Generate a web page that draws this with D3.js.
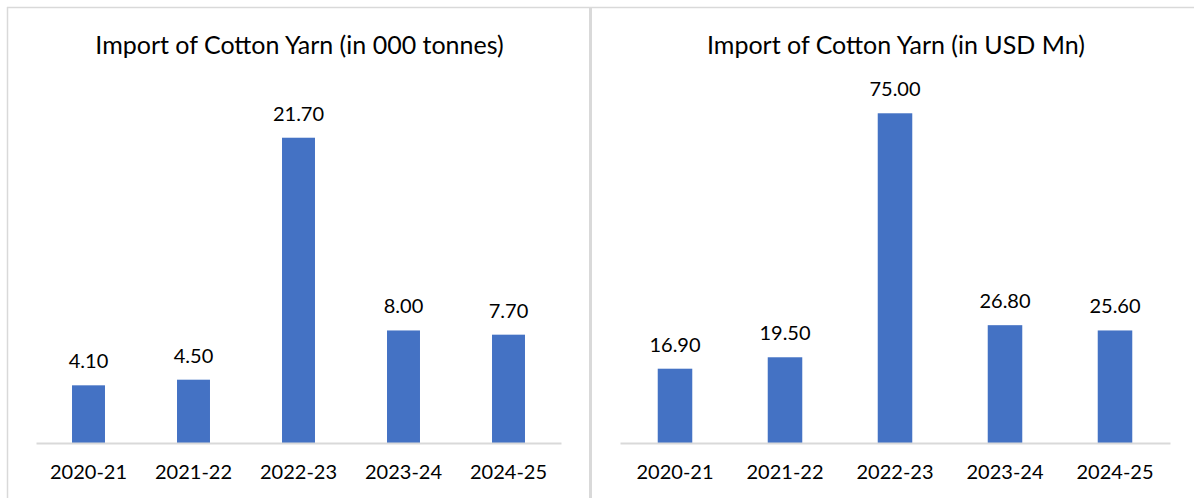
<!DOCTYPE html>
<html>
<head>
<meta charset="utf-8">
<script src="https://cdn.jsdelivr.net/npm/d3@7"></script>
<style>
  html, body { margin: 0; padding: 0; background: #fff; }
  svg { display: block; }
  text { font-family: Lato, "Noto Sans", sans-serif; fill: #000; }
</style>
</head>
<body>
<svg id="chart" width="1194" height="498"></svg>
<script>
// Fiscal years shown on both panels
const years = ["2020-21", "2021-22", "2022-23", "2023-24", "2024-25"];

// Cotton yarn imports by volume ('000 tonnes)
const volumeValues = [4.10, 4.50, 21.70, 8.00, 7.70];

// Cotton yarn imports by value (USD Mn)
const usdValues = [16.90, 19.50, 75.00, 26.80, 25.60];

const titles = ["Import of Cotton Yarn (in 000 tonnes)", "Import of Cotton Yarn (in USD Mn)"];
const axisMax = [25, 80];

const svg = d3.select("#chart");
const barColor = "#4472C4";
const gridGray = "#D9D9D9";

// panel frames
svg.append("line").attr("x1", 7).attr("x2", 1194).attr("y1", 7.5).attr("y2", 7.5)
  .attr("stroke", gridGray).attr("stroke-width", 1.5);
svg.append("line").attr("x1", 7.5).attr("x2", 7.5).attr("y1", 7).attr("y2", 498)
  .attr("stroke", gridGray).attr("stroke-width", 1.5);
svg.append("line").attr("x1", 590.5).attr("x2", 590.5).attr("y1", 7).attr("y2", 498)
  .attr("stroke", gridGray).attr("stroke-width", 3);

const panels = [
  { x0: 36, x1: 561, values: volumeValues, title: titles[0], max: axisMax[0] },
  { x0: 620, x1: 1170, values: usdValues, title: titles[1], max: axisMax[1] }
];

panels.forEach(p => {
  const g = svg.append("g");
  const x = d3.scaleBand().domain(years).range([p.x0, p.x1])
    .paddingInner(0.686).paddingOuter(0.343);
  const y = d3.scaleLinear().domain([0, p.max]).range([443, 91.3]);

  // title
  g.append("text")
    .attr("x", (p.x0 + p.x1) / 2 + 1)
    .attr("y", 54)
    .attr("text-anchor", "middle")
    .style("font-size", "25px")
    .text(p.title);

  // bars
  g.selectAll("rect.bar").data(p.values).join("rect")
    .attr("class", "bar")
    .attr("x", (d, i) => x(years[i]))
    .attr("width", x.bandwidth())
    .attr("y", d => y(d))
    .attr("height", d => y(0) - y(d))
    .attr("fill", barColor);

  // value labels
  g.selectAll("text.val").data(p.values).join("text")
    .attr("class", "val")
    .attr("x", (d, i) => x(years[i]) + x.bandwidth() / 2)
    .attr("y", d => y(d) - 17)
    .attr("text-anchor", "middle")
    .style("font-size", "20px")
    .text(d => d.toFixed(2));

  // category axis
  const axis = d3.axisBottom(x).tickSize(0).tickPadding(0);
  const ax = g.append("g").attr("transform", `translate(0,${y(0)})`).call(axis);
  ax.select(".domain").attr("stroke", gridGray).attr("stroke-width", 2);
  ax.selectAll(".tick text")
    .attr("y", 36)
    .attr("dy", 0)
    .style("font-size", "20px")
    .style("font-family", "Lato, 'Noto Sans', sans-serif")
    .attr("fill", "#000");
});
</script>
</body>
</html>
